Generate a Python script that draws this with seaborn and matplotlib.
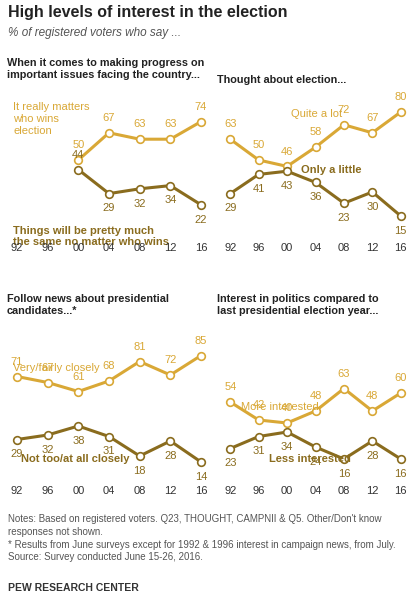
import matplotlib
matplotlib.use("Agg")
import matplotlib.pyplot as plt
import seaborn as sns
import pandas as pd

sns.set_style("white")
plt.rcParams['font.family'] = ['Arial', 'Liberation Sans', 'DejaVu Sans']

years = [1992, 1996, 2000, 2004, 2008, 2012, 2016]
year_labels = ["92", "96", "00", "04", "08", "12", "16"]

p1_years = [2000, 2004, 2008, 2012, 2016]
p1_top = [50, 67, 63, 63, 74]
p1_bot = [44, 29, 32, 34, 22]
p2_top = [63, 50, 46, 58, 72, 67, 80]
p2_bot = [29, 41, 43, 36, 23, 30, 15]
p3_top = [71, 67, 61, 68, 81, 72, 85]
p3_bot = [29, 32, 38, 31, 18, 28, 14]
p4_top = [54, 42, 40, 48, 63, 48, 60]
p4_bot = [23, 31, 34, 24, 16, 28, 16]

GOLD = "#D9A836"
DARK = "#8A6C1E"
W, H = 420, 601

fig = plt.figure(figsize=(W / 100, H / 100), dpi=100)

def ax_at(x0, x1, ytop, ybot):
    return fig.add_axes([x0 / W, 1 - ybot / H, (x1 - x0) / W, (ybot - ytop) / H])

panels = [
    (15, 203, 80, 240, p1_years, p1_top, p1_bot,
     "When it comes to making progress on\nimportant issues facing the country...",
     "It really matters\nwho wins\nelection", (1991.5, 86),
     "Things will be pretty much\nthe same no matter who wins", (1991.5, 9), 69, True),
    (229, 402, 80, 240, years, p2_top, p2_bot,
     "Thought about election...", "Quite a lot", (2000.5, 82),
     "Only a little", (2002, 47), 80, False),
    (15, 203, 333, 483, years, p3_top, p3_bot,
     "Follow news about presidential\ncandidates...*", "Very/fairly closely", (1991.5, 80),
     "Not too/at all closely", (1992.5, 19), 305, False),
    (229, 402, 333, 483, years, p4_top, p4_bot,
     "Interest in politics compared to\nlast presidential election year...",
     "More interested", (1993.5, 54),
     "Less interested", (1997.5, 19), 305, False),
]

for i, (x0, x1, yt, yb, yrs, top, bot, head, tlab, tpos, blab, bpos, hy, first_above) in enumerate(panels):
    ax = ax_at(x0 - 8, x1 + 8, yt, yb)
    for vals, col in [(top, GOLD), (bot, DARK)]:
        df = pd.DataFrame({"year": yrs, "v": vals})
        sns.lineplot(data=df, x="year", y="v", ax=ax, color=col, lw=2.2,
                     marker="o", markersize=5.5, markerfacecolor="white",
                     markeredgecolor=col, markeredgewidth=1.2)
    ax.set_xlim(1992 - 1.3, 2016 + 1.3)
    ax.set_ylim(0, 100)
    ax.axis("off")
    for yr, v in zip(yrs, top):
        ax.annotate(str(v), (yr, v), xytext=(0, 7), textcoords="offset points",
                    ha="center", va="bottom", fontsize=8, color=GOLD)
    for j, (yr, v) in enumerate(zip(yrs, bot)):
        above = first_above and j == 0
        ax.annotate(str(v), (yr, v), xytext=(0, 7 if above else -7), textcoords="offset points",
                    ha="center", va="bottom" if above else "top", fontsize=8, color=DARK)
    ax.text(tpos[0], tpos[1], tlab, fontsize=8, color=GOLD, va="top", ha="left")
    ax.text(bpos[0], bpos[1], blab, fontsize=8, color=DARK, va="top", ha="left", fontweight="bold")
    for yr, lab in zip(years, year_labels):
        ax.text(yr, -2, lab, ha="center", va="top", fontsize=8, color="#333333")
    fig.text((x0 - 8) / W if i % 2 == 0 else (x0 - 12) / W, 1 - hy / H, head,
             fontsize=7.8, fontweight="bold", color="#222222", va="center", ha="left",
             linespacing=1.2)

fig.text(8 / W, 1 - 12 / H, "High levels of interest in the election", fontsize=11.5,
         fontweight="bold", color="#222222", va="center")
fig.text(8 / W, 1 - 33 / H, "% of registered voters who say ...", fontsize=8.5,
         style="italic", color="#555555", va="center")
notes = ("Notes: Based on registered voters. Q23, THOUGHT, CAMPNII & Q5. Other/Don't know\n"
         "responses not shown.\n"
         "* Results from June surveys except for 1992 & 1996 interest in campaign news, from July.\n"
         "Source: Survey conducted June 15-26, 2016.")
fig.text(8 / W, 1 - 514 / H, notes, fontsize=7, color="#555555", va="top", linespacing=1.35)
fig.text(8 / W, 1 - 588 / H, "PEW RESEARCH CENTER", fontsize=7.5, fontweight="bold",
         color="#333333", va="center")

fig.savefig("out.png", dpi=100, facecolor="white")
